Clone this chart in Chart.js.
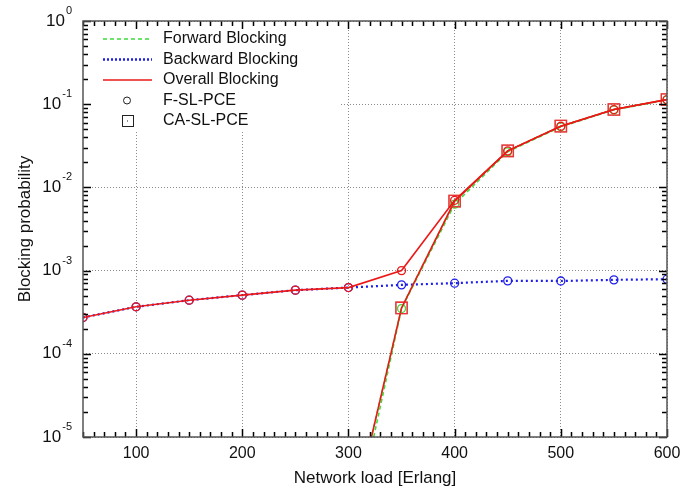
<!DOCTYPE html>
<html>
<head>
<meta charset="utf-8">
<script src="https://cdn.jsdelivr.net/npm/chart.js@4.4.1/dist/chart.umd.min.js"></script>
<style>
  html,body{margin:0;padding:0;background:#fff}
  #c{display:block}
</style>
</head>
<body>
<canvas id="c" width="700" height="490"></canvas>
<script>
// network load [Erlang]
const loads=[50,100,150,200,250,300,350,400,450,500,550,600];

// F-SL-PCE
const fOverall =[2.73e-4,3.67e-4,4.41e-4,5.07e-4,5.82e-4,6.25e-4,1.0e-3,7.0e-3,0.0275,0.0543,0.0862,0.1135];
const fBackward=[2.73e-4,3.67e-4,4.41e-4,5.07e-4,5.82e-4,6.25e-4,6.74e-4,7.06e-4,7.53e-4,7.5e-4,7.74e-4,7.88e-4];
const fForward =[null,null,null,null,null,4.0e-7,3.5e-4,6.3e-3,0.0268,0.0535,0.0855,0.1125];

// CA-SL-PCE (no backward blocking, overall = forward)
const caForward=[null,null,null,null,null,6.5e-7,3.56e-4,6.85e-3,0.0275,0.0545,0.0865,0.114];
const caOverall=[null,null,null,null,null,6.5e-7,3.56e-4,6.85e-3,0.0275,0.0545,0.0865,0.114];

const xTicks=[100,200,300,400,500,600];
const yExps=[0,-1,-2,-3,-4,-5];

const RED='rgb(236,24,24)';
const GREEN='rgb(60,220,60)';
const BLUE='rgb(30,30,235)';
const FONT='"Liberation Sans", Arial, sans-serif';

const pts=arr=>loads.map((x,i)=>({x:x,y:arr[i]}));

const legendItems=[
  {label:'Forward Blocking',kind:'line',color:GREEN,dash:[4,3],width:1.5},
  {label:'Backward Blocking',kind:'line',color:BLUE,dash:[2,2],width:2.5},
  {label:'Overall Blocking',kind:'line',color:RED,dash:[],width:1.5},
  {label:'F-SL-PCE',kind:'circle'},
  {label:'CA-SL-PCE',kind:'square'}
];

// legend box covers the grid in the upper left corner
const legendPlugin={
  id:'boxLegend',
  afterDatasetsDraw(chart){
    const ctx=chart.ctx, a=chart.chartArea;
    ctx.save();
    ctx.fillStyle='#fff';
    ctx.fillRect(a.left+1,a.top+1,255,110);
    ctx.font='16px '+FONT;
    ctx.textBaseline='middle';
    legendItems.forEach((it,i)=>{
      const y=a.top+18+i*20.5;
      if(it.kind==='line'){
        ctx.strokeStyle=it.color;ctx.lineWidth=it.width;ctx.setLineDash(it.dash);
        ctx.beginPath();ctx.moveTo(a.left+20,y);ctx.lineTo(a.left+69,y);ctx.stroke();
        ctx.setLineDash([]);
      }else if(it.kind==='circle'){
        ctx.strokeStyle='#222';ctx.lineWidth=1;
        ctx.beginPath();ctx.arc(a.left+44,y,3.5,0,Math.PI*2);ctx.stroke();
      }else{
        ctx.strokeStyle='#222';ctx.lineWidth=1;
        ctx.strokeRect(a.left+39.5,y-5.5,11,11);
        ctx.fillStyle='#222';ctx.fillRect(a.left+44,y-0.5,1,1);
      }
      ctx.fillStyle='#111';
      ctx.fillText(it.label,a.left+80,y);
    });
    ctx.restore();
  }
};

// frame, inward ticks and 10^n labels
const axesPlugin={
  id:'frameTicks',
  afterDraw(chart){
    const ctx=chart.ctx, a=chart.chartArea;
    const xs=chart.scales.x, ys=chart.scales.y;
    ctx.save();
    ctx.setLineDash([]);
    ctx.strokeStyle='#000';
    ctx.lineWidth=1.5;
    ctx.beginPath();
    for(let v=50;v<=600;v+=10){
      const px=Math.round(xs.getPixelForValue(v))+0.5;
      const len=(v%100===0)?8:5;
      ctx.moveTo(px,a.bottom);ctx.lineTo(px,a.bottom-len);
      ctx.moveTo(px,a.top);ctx.lineTo(px,a.top+len);
    }
    for(let e=-5;e<=0;e++){
      for(let m=1;m<=9;m++){
        const v=m*Math.pow(10,e);
        if(v>1) break;
        const py=Math.round(ys.getPixelForValue(v))+0.5;
        const len=(m===1)?8:5;
        ctx.moveTo(a.left,py);ctx.lineTo(a.left+len,py);
        ctx.moveTo(a.right,py);ctx.lineTo(a.right-len,py);
      }
    }
    ctx.stroke();

    ctx.strokeStyle='#555';ctx.lineWidth=1.5;
    ctx.strokeRect(a.left,a.top,a.right-a.left,a.bottom-a.top);

    ctx.fillStyle='#111';
    ctx.textBaseline='middle';
    yExps.forEach(e=>{
      const py=ys.getPixelForValue(Math.pow(10,e));
      ctx.font='11px '+FONT;
      const sup=String(e);
      const wSup=ctx.measureText(sup).width;
      const right=72;
      ctx.textAlign='left';
      ctx.fillText(sup,right-wSup,py-10);
      ctx.font='17px '+FONT;
      ctx.textAlign='right';
      ctx.fillText('10',right-wSup-1,py);
    });
    ctx.restore();
  }
};

const ds=(label,arr,color,dash,width,style,radius,pcolor,order)=>({
  label:label,data:pts(arr),borderColor:color,borderWidth:width,borderDash:dash,
  pointStyle:style,pointRadius:radius,pointHoverRadius:radius,pointBorderColor:pcolor,
  pointBackgroundColor:'rgba(0,0,0,0)',pointBorderWidth:1.3,fill:false,tension:0,order:order
});

new Chart(document.getElementById('c'),{
  type:'line',
  data:{datasets:[
    ds('F overall',fOverall,RED,[],1.6,'circle',4,RED,1),
    ds('CA overall',caOverall,RED,[],1.6,'rect',8,'rgba(230,50,50,0.85)',2),
    ds('F backward',fBackward,BLUE,[2,3],2.2,'circle',4,BLUE,3),
    ds('F forward',fForward,GREEN,[4,3],1.6,'circle',4,GREEN,4),
    ds('CA forward',caForward,GREEN,[4,3],1.6,'rect',8,'rgba(230,50,50,0.85)',5)
  ]},
  options:{
    responsive:false,animation:false,devicePixelRatio:1,
    layout:{padding:{top:21,right:33,left:0,bottom:0}},
    plugins:{legend:{display:false},tooltip:{enabled:false}},
    scales:{
      x:{
        type:'linear',min:50,max:600,
        afterBuildTicks:s=>{s.ticks=xTicks.map(v=>({value:v}));},
        afterFit:s=>{s.height=53;},
        grid:{color:'#8a8a8a',lineWidth:1,drawTicks:false},
        border:{display:false,dash:[1,2]},
        ticks:{font:{family:FONT,size:16},color:'#111',padding:7,maxRotation:0},
        title:{display:true,text:'Network load [Erlang]',font:{family:FONT,size:17},color:'#111',padding:{top:0,bottom:1}}
      },
      y:{
        type:'logarithmic',min:1e-5,max:1,
        afterBuildTicks:s=>{s.ticks=yExps.map(e=>({value:Math.pow(10,e)}));},
        afterFit:s=>{s.width=83;},
        grid:{color:'#8a8a8a',lineWidth:1,drawTicks:false},
        border:{display:false,dash:[1,2]},
        ticks:{callback:()=>'',padding:0},
        title:{display:true,text:'Blocking probability',font:{family:FONT,size:17},color:'#111',padding:{top:15,bottom:0}}
      }
    }
  },
  plugins:[legendPlugin,axesPlugin]
});
</script>
</body>
</html>
